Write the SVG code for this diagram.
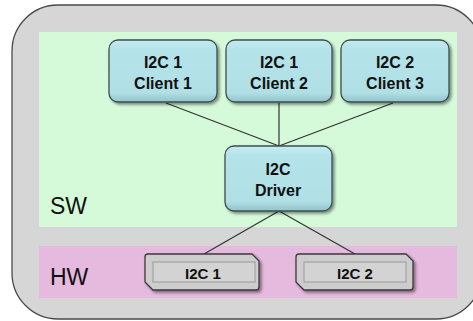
<svg xmlns="http://www.w3.org/2000/svg" width="473" height="321" viewBox="0 0 473 321">
<style>
.lbl{font-family:"Liberation Sans",Arial,sans-serif;font-weight:bold;font-size:16px;fill:#111;text-anchor:middle}
.hwl{font-size:15px}
.zone{font-family:"Liberation Sans",Arial,sans-serif;font-size:23px;fill:#111}
.sw{fill:url(#gBlue);stroke:#3f4d4f;stroke-width:1.3}
.hw{fill:#cdcdcd;stroke:#3a3a3a;stroke-width:1.3}
.inner{fill:#d3d3d3;stroke:#9a9a9a;stroke-width:1}
.conn{stroke:#333;stroke-width:1.2;fill:none}
</style>
<defs>
<linearGradient id="gBlue" x1="0" y1="0" x2="0" y2="1">
<stop offset="0" stop-color="#c4ecf1"/>
<stop offset="0.15" stop-color="#b5e3ea"/>
<stop offset="0.85" stop-color="#b0dfe6"/>
<stop offset="1" stop-color="#93c3ca"/>
</linearGradient>
<filter id="sh" x="-10%" y="-10%" width="130%" height="130%">
<feGaussianBlur in="SourceAlpha" stdDeviation="1.5"/>
<feOffset dx="1.5" dy="2" result="b"/>
<feComponentTransfer><feFuncA type="linear" slope="0.45"/></feComponentTransfer>
<feMerge><feMergeNode/><feMergeNode in="SourceGraphic"/></feMerge>
</filter>
</defs>
<rect x="12" y="5" width="470" height="314" rx="46" fill="#d6d6d6" stroke="#4a4a4a" stroke-width="1.3"/>
<rect x="39" y="32" width="418" height="195" fill="#d5fad9"/>
<rect x="39" y="246" width="418" height="52" fill="#e6b9de"/>
<text class="zone" x="50" y="214">SW</text>
<text class="zone" x="50" y="285">HW</text>
<g id="connectors">
<line class="conn" x1="166" y1="103" x2="279" y2="146"/>
<line class="conn" x1="279" y1="103" x2="279" y2="146"/>
<line class="conn" x1="393" y1="103" x2="279" y2="146"/>
<line class="conn" x1="279" y1="211" x2="204" y2="254"/>
<line class="conn" x1="279" y1="211" x2="355" y2="254"/>
</g>
<g id="client1">
<rect class="sw" x="109" y="40" width="108" height="62" rx="9" filter="url(#sh)"/>
<text class="lbl" x="163" y="68">I2C 1</text>
<text class="lbl" x="163" y="89">Client 1</text>
</g>
<g id="client2">
<rect class="sw" x="226" y="40" width="106" height="62" rx="9" filter="url(#sh)"/>
<text class="lbl" x="279" y="68">I2C 1</text>
<text class="lbl" x="279" y="89">Client 2</text>
</g>
<g id="client3">
<rect class="sw" x="341" y="40" width="108" height="62" rx="9" filter="url(#sh)"/>
<text class="lbl" x="395" y="68">I2C 2</text>
<text class="lbl" x="395" y="89">Client 3</text>
</g>
<g id="driver">
<rect class="sw" x="225" y="146" width="107" height="65" rx="9" filter="url(#sh)"/>
<text class="lbl" x="278" y="175">I2C</text>
<text class="lbl" x="278" y="196">Driver</text>
</g>
<g id="hw1">
<path class="hw" d="M148 254 H252 L259 261 V287 Q259 290 256 290 H153 L145 282 V257 Q145 254 148 254 Z" filter="url(#sh)"/>
<rect class="inner" x="153" y="262" width="102" height="20"/>
<text class="lbl hwl" x="203" y="279">I2C 1</text>
</g>
<g id="hw2">
<path class="hw" d="M299 254 H406 L413 261 V287 Q413 290 410 290 H304 L296 282 V257 Q296 254 299 254 Z" filter="url(#sh)"/>
<rect class="inner" x="304" y="262" width="102" height="20"/>
<text class="lbl hwl" x="355" y="279">I2C 2</text>
</g>
</svg>
